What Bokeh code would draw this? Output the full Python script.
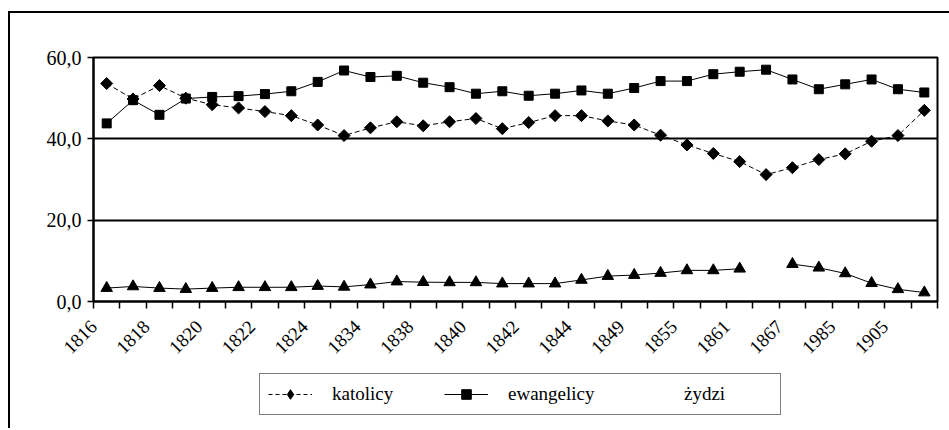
import math
import numpy as np
from bokeh.plotting import figure
from bokeh.layouts import column
from bokeh.models import Range1d, FixedTicker, Legend, LegendItem
from bokeh.embed import file_html
from bokeh.resources import INLINE

# ---- data -------------------------------------------------------------
categories = list(range(32))
tick_labels = ["1816", "1818", "1820", "1822", "1824", "1834", "1838", "1840",
               "1842", "1844", "1849", "1855", "1861", "1867", "1985", "1905"]
y_tick_values = [0, 20, 40, 60]
y_tick_labels = ["0,0", "20,0", "40,0", "60,0"]

katolicy = [53.6, 49.8, 53.1, 50.0, 48.4, 47.6, 46.7, 45.7, 43.4, 40.8,
            42.7, 44.2, 43.2, 44.2, 45.0, 42.5, 44.0, 45.7, 45.7, 44.4,
            43.4, 40.9, 38.5, 36.4, 34.4, 31.2, 32.9, 34.9, 36.3, 39.4,
            40.8, 47.0]
ewangelicy = [43.8, 49.5, 45.9, 49.9, 50.3, 50.5, 51.0, 51.7, 54.0, 56.8,
              55.2, 55.5, 53.8, 52.7, 51.1, 51.7, 50.6, 51.1, 51.9, 51.1,
              52.5, 54.2, 54.2, 55.9, 56.5, 57.0, 54.6, 52.2, 53.4, 54.6,
              52.2, 51.4]
zydzi = [3.3, 3.7, 3.3, 3.05, 3.3, 3.5, 3.5, 3.5, 3.8, 3.6,
         4.15, 4.9, 4.75, 4.7, 4.7, 4.4, 4.4, 4.4, 5.3, 6.25,
         6.5, 7.0, 7.65, 7.65, 8.05, np.nan, 9.2, 8.3, 6.9, 4.5,
         3.0, 2.2]
series_names = ["katolicy", "ewangelicy", "żydzi"]

# ---- main figure ------------------------------------------------------
FONT = "Liberation Serif"
W, H1, H2 = 939, 358, 57
p = figure(width=W, height=H1, output_backend="svg", toolbar_location=None,
           x_range=Range1d(-0.5, len(categories) - 0.5),
           y_range=Range1d(0, 60),
           min_border_left=83, min_border_right=12,
           min_border_top=44, min_border_bottom=H1 - 44 - 244)
p.background_fill_color = "white"
p.border_fill_color = "white"
p.outline_line_color = "black"
p.outline_line_width = 2

# x axis: tick marks on category boundaries, a label on every other category
boundaries = [c - 0.5 for c in categories] + [categories[-1] + 0.5]
label_pos = boundaries[0:-1:2]
xa = p.xaxis[0]
xa.ticker = FixedTicker(ticks=label_pos, minor_ticks=boundaries)
xa.major_label_overrides = {pos: lab for pos, lab in zip(label_pos, tick_labels)}
xa.major_label_orientation = math.pi / 4
xa.major_tick_out = 0
xa.major_tick_in = 0
xa.minor_tick_out = 7
xa.minor_tick_in = 0
xa.minor_tick_line_color = "black"
xa.minor_tick_line_width = 1.5
xa.axis_line_color = "black"
xa.axis_line_width = 2
xa.major_label_text_font = FONT
xa.major_label_text_font_size = "19px"
xa.major_label_text_color = "black"
xa.major_label_standoff = 15

ya = p.yaxis[0]
ya.ticker = FixedTicker(ticks=y_tick_values, minor_ticks=[])
ya.major_label_overrides = {v: lab for v, lab in zip(y_tick_values, y_tick_labels)}
ya.major_tick_out = 6
ya.major_tick_in = 0
ya.major_tick_line_color = "black"
ya.major_tick_line_width = 1.5
ya.axis_line_color = "black"
ya.axis_line_width = 2
ya.major_label_text_font = FONT
ya.major_label_text_font_size = "20px"
ya.major_label_text_color = "black"
ya.major_label_standoff = 6

p.xgrid.grid_line_color = None
p.ygrid.ticker = FixedTicker(ticks=y_tick_values)
p.ygrid.grid_line_color = "black"
p.ygrid.grid_line_width = 2

# ---- series -----------------------------------------------------------
k_line = dict(line_color="black", line_width=1, line_dash="5 3")
e_line = dict(line_color="black", line_width=1)
p.line(categories, katolicy, **k_line)
p.scatter(categories, katolicy, marker="square", angle=math.pi / 4, size=8.5,
          fill_color="black", line_color="black")
p.line(categories, ewangelicy, **e_line)
p.scatter(categories, ewangelicy, marker="square", size=9,
          fill_color="black", line_color="black")
p.line(categories, zydzi, line_color="black", line_width=1)
p.scatter(categories, zydzi, marker="triangle", size=11.5,
          fill_color="black", line_color="black")

# ---- legend strip (separate figure so the box is not clipped) ---------
# The same series are drawn here only to feed the legend glyphs; this strip's
# ranges lie outside every data value, so none of them is visible.
q = figure(width=W, height=H2, output_backend="svg", toolbar_location=None,
           x_range=Range1d(-3, -2), y_range=Range1d(-3, -2),
           x_axis_location=None, y_axis_location=None,
           min_border_left=0, min_border_right=0,
           min_border_top=0, min_border_bottom=0)
q.grid.visible = False
q.outline_line_color = None
q.background_fill_color = "white"
q.border_fill_color = "white"
gk_l = q.line(categories, katolicy, line_color="black", line_width=1, line_dash="4 3")
gk_m = q.scatter(categories, katolicy, marker="diamond", size=13,
                 fill_color="black", line_color="black")
ge_l = q.line(categories, ewangelicy, **e_line)
ge_m = q.scatter(categories, ewangelicy, marker="square", size=8,
                 fill_color="black", line_color="black")
gz = q.line(categories, zydzi, line_alpha=0)

legend = Legend(items=[LegendItem(label=series_names[0], renderers=[gk_l, gk_m]),
                       LegendItem(label=series_names[1], renderers=[ge_l, ge_m]),
                       LegendItem(label=series_names[2], renderers=[gz])],
                orientation="horizontal", location=(166, 13),
                border_line_color="black", border_line_width=1,
                background_fill_color="white", background_fill_alpha=1,
                label_text_font=FONT, label_text_font_size="19px",
                label_text_color="black",
                glyph_width=44, glyph_height=24, label_standoff=20,
                label_width=88, spacing=24, padding=8, margin=0)
q.add_layout(legend)

# outer chart frame (only its left and top edges fall inside the window)
page = column(p, q, spacing=0,
              styles={"border-left": "2px solid black",
                      "border-top": "2px solid black",
                      "margin-left": "8px", "margin-top": "11px"})

open("out.html", "w").write(file_html(page, INLINE))
